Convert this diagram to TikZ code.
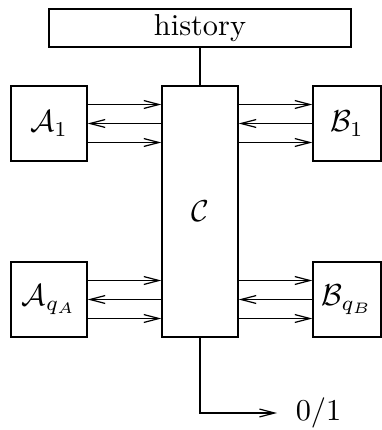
\documentclass[tikz,border=0pt]{standalone}
\usepackage{amsmath,amssymb}
\usetikzlibrary{arrows.meta,positioning,calc}
\tikzset{
  box/.style={draw,thin,inner sep=0pt},
  link/.style={thin},
  tipto/.style={link,-{Straight Barb[length=5pt,width=2.6pt]}},
  tipfrom/.style={link,{Straight Barb[length=5pt,width=2.6pt]}-},
}

\begin{document}
\begin{tikzpicture}[x=0.0116cm,y=-0.0116cm]
    \useasboundingbox (0,0) rectangle (382,430);
    % boxes
    \node[box,minimum width=302*0.33pt,minimum height=38*0.33pt] (hist) at (200,28) {history};
    \node[box,minimum width=76*0.33pt,minimum height=251*0.33pt] (C) at (200,211.5) {$\mathcal{C}$};
    \node[box,minimum width=76*0.33pt,minimum height=75*0.33pt] (A1) at (49,123.5) {$\mathcal{A}_1$};
    \node[box,minimum width=76*0.33pt,minimum height=75*0.33pt] (Aq) at (49,299.5) {$\mathcal{A}_{q_A}$};
    \node[box,minimum width=68*0.33pt,minimum height=75*0.33pt] (B1) at (347,123.5) {$\mathcal{B}_1$};
    \node[box,minimum width=68*0.33pt,minimum height=75*0.33pt] (Bq) at (347,299.5) {$\mathcal{B}_{q_B}$};
    \node[anchor=west,inner sep=6pt] (out) at (277,413) {$0/1$};
    % history -- C
    \draw[link] (hist.south) -- (C.north);
    % A side and B side, three lines each
    \foreach \dy/\st in {-19/tipto,0/tipfrom,19/tipto}{
      \draw[\st] ($(A1.east)+(0,\dy)$) -- ($(C.west |- A1.east)+(0,\dy)$);
      \draw[\st] ($(Aq.east)+(0,\dy)$) -- ($(C.west |- Aq.east)+(0,\dy)$);
      \draw[\st] ($(C.east |- B1.west)+(0,\dy)$) -- ($(B1.west)+(0,\dy)$);
      \draw[\st] ($(C.east |- Bq.west)+(0,\dy)$) -- ($(Bq.west)+(0,\dy)$);
    }
    % output
    \draw[tipto] (C.south) |- (out.west);
  \end{tikzpicture}
\end{document}
